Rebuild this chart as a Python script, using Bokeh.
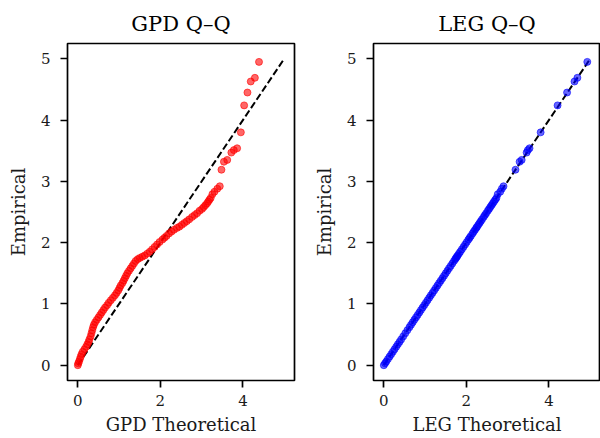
from bokeh.plotting import figure
from bokeh.layouts import row
from bokeh.models import Range1d, FixedTicker
from bokeh.embed import file_html
from bokeh.resources import INLINE

# Sorted empirical sample values (shared by both Q-Q plots)
empirical = [
    0.00, 0.03, 0.06, 0.10, 0.14, 0.18, 0.22, 0.26, 0.30, 0.34, 0.38, 0.42,
    0.47, 0.52, 0.57, 0.62, 0.66, 0.70, 0.74, 0.78, 0.82, 0.86, 0.90, 0.94,
    0.98, 1.02, 1.06, 1.10, 1.14, 1.18, 1.22, 1.26, 1.30, 1.34, 1.38, 1.42,
    1.46, 1.50, 1.54, 1.58, 1.62, 1.66, 1.70, 1.73, 1.75, 1.77, 1.79, 1.82,
    1.85, 1.89, 1.93, 1.97, 2.01, 2.05, 2.08, 2.11, 2.15, 2.18, 2.21, 2.24,
    2.26, 2.29, 2.32, 2.35, 2.38, 2.42, 2.45, 2.48, 2.52, 2.55, 2.58, 2.61,
    2.64, 2.67, 2.70, 2.73,
    2.79, 2.83, 2.88, 2.92, 3.19, 3.32, 3.35, 3.47, 3.51, 3.54, 3.80, 4.24,
    4.45, 4.63, 4.69, 4.95,
]

# GPD theoretical quantiles
gpd_theoretical = [
    0.00, 0.01, 0.03, 0.05, 0.07, 0.09, 0.12, 0.16, 0.20, 0.23, 0.26, 0.28,
    0.31, 0.33, 0.35, 0.37, 0.39, 0.42, 0.46, 0.50, 0.54, 0.58, 0.62, 0.66,
    0.71, 0.75, 0.80, 0.85, 0.90, 0.94, 0.98, 1.01, 1.04, 1.08, 1.11, 1.14,
    1.17, 1.20, 1.24, 1.28, 1.32, 1.36, 1.40, 1.45, 1.50, 1.56, 1.62, 1.68,
    1.74, 1.80, 1.86, 1.92, 1.98, 2.05, 2.10, 2.15, 2.21, 2.27, 2.33, 2.40,
    2.46, 2.52, 2.58, 2.64, 2.70, 2.77, 2.83, 2.89, 2.95, 3.01, 3.05, 3.09,
    3.13, 3.16, 3.19, 3.22,
    3.26, 3.31, 3.38, 3.44, 3.48, 3.54, 3.62, 3.72, 3.78, 3.86, 3.95, 4.03,
    4.11, 4.19, 4.29, 4.39,
]

# LEG theoretical quantiles
leg_theoretical = [
    0.00, 0.03, 0.06, 0.10, 0.14, 0.18, 0.22, 0.26, 0.30, 0.34, 0.38, 0.42,
    0.47, 0.52, 0.57, 0.62, 0.66, 0.70, 0.74, 0.78, 0.82, 0.86, 0.90, 0.94,
    0.98, 1.02, 1.06, 1.10, 1.14, 1.18, 1.22, 1.26, 1.30, 1.34, 1.38, 1.42,
    1.46, 1.50, 1.54, 1.58, 1.62, 1.66, 1.70, 1.73, 1.75, 1.77, 1.79, 1.82,
    1.85, 1.89, 1.93, 1.97, 2.01, 2.05, 2.08, 2.11, 2.15, 2.18, 2.21, 2.24,
    2.26, 2.29, 2.32, 2.35, 2.38, 2.42, 2.45, 2.48, 2.52, 2.55, 2.58, 2.61,
    2.64, 2.67, 2.70, 2.73,
    2.76, 2.82, 2.86, 2.90, 3.19, 3.29, 3.34, 3.46, 3.49, 3.53, 3.80, 4.21,
    4.44, 4.62, 4.69, 4.93,
]

ref_line = [0, 5]
x_ticks = [0, 2, 4]
y_ticks = [0, 1, 2, 3, 4, 5]

FONT = "DejaVu Serif"


def make_plot(title, xlab, xs, ys, color, border_left, border_right):
    p = figure(width=300, height=438, output_backend="svg", toolbar_location=None,
               x_range=Range1d(-0.25, 5.25), y_range=Range1d(-0.25, 5.25),
               min_border_left=border_left, min_border_right=border_right,
               min_border_top=43, min_border_bottom=58,
               background_fill_color="white", border_fill_color="white")
    p.title.text = title
    p.title.align = "center"
    p.title.text_font = FONT
    p.title.text_font_size = "21px"
    p.title.text_font_style = "normal"
    p.title.text_color = "black"
    p.title.standoff = 16
    p.grid.visible = False
    p.outline_line_color = "black"
    p.outline_line_width = 1.7
    p.outline_line_alpha = 1.0

    p.xaxis.axis_label = xlab
    p.yaxis.axis_label = "Empirical"
    p.xaxis.ticker = FixedTicker(ticks=x_ticks)
    p.yaxis.ticker = FixedTicker(ticks=y_ticks)
    for ax in (p.xaxis, p.yaxis):
        ax.axis_line_color = None
        ax.major_tick_line_color = "black"
        ax.major_tick_line_width = 1.7
        ax.major_tick_out = 7
        ax.major_tick_in = 0
        ax.minor_tick_line_color = None
        ax.major_label_text_font = FONT
        ax.major_label_text_font_size = "15px"
        ax.major_label_text_color = "#1a1a1a"
        ax.axis_label_text_font = FONT
        ax.axis_label_text_font_size = "18px"
        ax.axis_label_text_font_style = "normal"
        ax.axis_label_text_color = "#1a1a1a"
    p.xaxis.major_label_standoff = 7
    p.xaxis.axis_label_standoff = 5
    p.yaxis.major_label_standoff = 10
    p.yaxis.axis_label_standoff = 9

    p.line(ref_line, ref_line, line_color="black", line_width=2, line_dash="7 3")
    p.scatter(xs, ys, size=7, fill_color=color, line_color=color,
              fill_alpha=0.6, line_alpha=0.6, line_width=1)
    return p


p1 = make_plot("GPD Q\u2013Q", "GPD Theoretical", gpd_theoretical, empirical,
               "#ff0000", 67, 6)
p2 = make_plot("LEG Q\u2013Q", "LEG Theoretical", leg_theoretical, empirical,
               "#0000ff", 73, 0)

layout = row(p1, p2)
open("out.html", "w").write(file_html(layout, INLINE))
